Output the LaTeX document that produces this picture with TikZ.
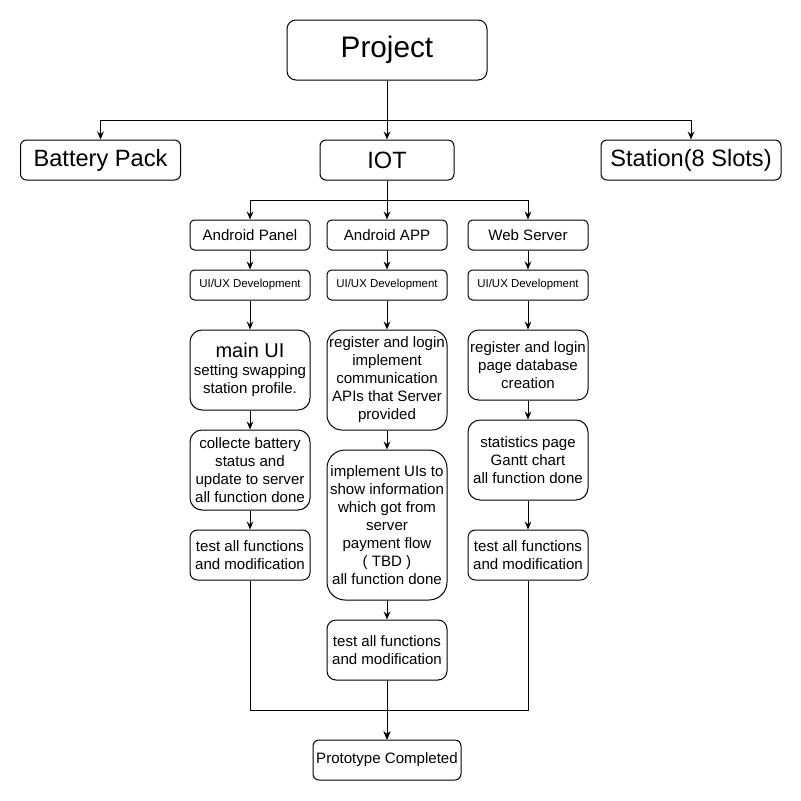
\documentclass[tikz,border=0pt]{standalone}
\usepackage{fontspec}
\setmainfont{Liberation Sans}
\usetikzlibrary{arrows.meta}

\begin{document}
\begin{tikzpicture}[x=0.75pt, y=-0.75pt, line width=0.75pt,
    box/.style={draw, fill=white, rounded corners=#1, align=center, inner sep=0pt,
        minimum width=90pt, font=\fontsize{11.3}{13.5}\selectfont},
    box/.default=3.4pt,
    arr/.style={-{Stealth[length=6pt, width=5pt]}}]
\useasboundingbox (0,0) rectangle (801,801);

\node[box=6.75pt, minimum width=150pt, minimum height=45pt, font=\fontsize{22.3}{26}\selectfont] (proj) at (387,50) {Project};
\node[box=4.5pt, minimum width=120pt, minimum height=30pt, font=\fontsize{17.7}{21}\selectfont] (bat) at (100.5,160) {Battery Pack};
\node[box=4.5pt, minimum width=100.5pt, minimum height=30pt, font=\fontsize{17.7}{21}\selectfont] (iot) at (387,160) {IOT};
\node[box=4.5pt, minimum width=135pt, minimum height=30pt, font=\fontsize{17.7}{21}\selectfont] (sta) at (691,160) {Station(8 Slots)};

\node[box, minimum height=22.5pt] (pan) at (250,235) {Android Panel};
\node[box, minimum height=22.5pt] (app) at (387,235) {Android APP};
\node[box, minimum height=22.5pt] (web) at (528,235) {Web Server};

\node[box, minimum height=22.5pt, font=\fontsize{8.6}{10}\selectfont] (ux1) at (250,285) {UI/UX Development};
\node[box, minimum height=22.5pt, font=\fontsize{8.6}{10}\selectfont] (ux2) at (387,285) {UI/UX Development};
\node[box, minimum height=22.5pt, font=\fontsize{8.6}{10}\selectfont] (ux3) at (528,285) {UI/UX Development};

\node[box=9pt, minimum height=60pt] (mui) at (250,370) {{\fontsize{15}{17}\selectfont main UI}\\setting swapping\\station profile.};
\node[box=9pt, minimum height=60pt] (col) at (250,470) {collecte battery\\status and\\update to server\\all function done};
\node[box=5.6pt, minimum height=37.5pt] (tst1) at (250,555) {test all functions\\and modification};

\node[box=11.25pt, minimum height=75pt] (reg) at (387,380) {register and login\\implement\\communication\\APIs that Server\\provided};
\node[box=13.5pt, minimum height=112.5pt] (imp) at (387,525) {implement UIs to\\show information\\which got from\\server\\payment flow\\( TBD )\\all function done};
\node[box=6.75pt, minimum height=45pt] (tst2) at (387,650) {test all functions\\and modification};

\node[box=7.9pt, minimum height=52.5pt] (wreg) at (528,365) {register and login\\page database\\creation};
\node[box=9pt, minimum height=60pt] (sts) at (528,460) {statistics page\\Gantt chart\\all function done};
\node[box=5.6pt, minimum height=37.5pt] (tst3) at (528,555) {test all functions\\and modification};

\node[box=4.5pt, minimum width=111pt, minimum height=30pt] (pro) at (387,760) {Prototype Completed};
\coordinate (mrg) at (387,710);

\draw[arr] (proj.south) -- ++(0,40) -| (bat.north);
\draw[arr] (proj.south) -- (iot.north);
\draw[arr] (proj.south) -- ++(0,40) -| (sta.north);
\draw[arr] (iot.south) -- ++(0,20) -| (pan.north);
\draw[arr] (iot.south) -- (app.north);
\draw[arr] (iot.south) -- ++(0,20) -| (web.north);

\draw[arr] (pan) -- (ux1);
\draw[arr] (ux1) -- (mui);
\draw[arr] (mui) -- (col);
\draw[arr] (col) -- (tst1);
\draw[arr] (app) -- (ux2);
\draw[arr] (ux2) -- (reg);
\draw[arr] (reg) -- (imp);
\draw[arr] (imp) -- (tst2);
\draw[arr] (web) -- (ux3);
\draw[arr] (ux3) -- (wreg);
\draw[arr] (wreg) -- (sts);
\draw[arr] (sts) -- (tst3);

\draw[arr] (tst1.south) |- (mrg) -- (pro.north);
\draw[arr] (tst2) -- (pro);
\draw[arr] (tst3.south) |- (mrg) -- (pro.north);

\end{tikzpicture}
\end{document}
